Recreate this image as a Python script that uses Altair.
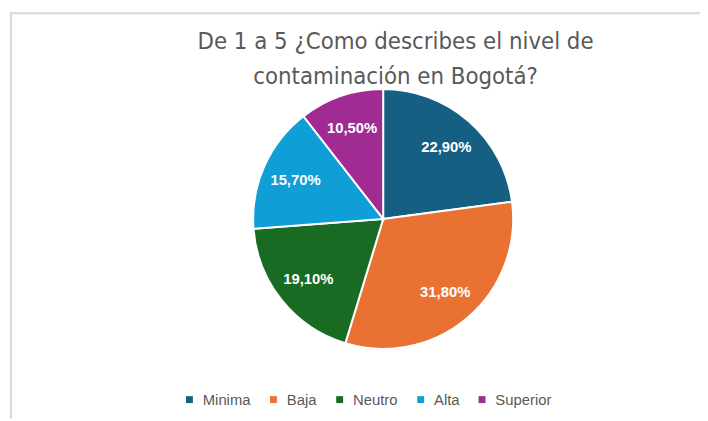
import altair as alt
import pandas as pd

categories = ["Minima", "Baja", "Neutro", "Alta", "Superior"]
values = [22.9, 31.8, 19.1, 15.7, 10.5]
labels = ["22,90%", "31,80%", "19,10%", "15,70%", "10,50%"]
slice_order = [0, 1, 2, 3, 4]
colors = ["#156082", "#E97132", "#196B24", "#0F9ED5", "#A02B93"]
title_lines = ["De 1 a 5 ¿Como describes el nivel de", "contaminación en Bogotá?"]

df = pd.DataFrame({"cat": categories, "val": values, "label": labels, "ord": slice_order})
frame_df = pd.DataFrame({"k": [0]})

CX, CY, R = 379.5, 211, 131.5

color_enc = alt.Color(
    "cat:N",
    sort=categories,
    scale=alt.Scale(domain=categories, range=colors),
    legend=alt.Legend(
        orient="none",
        legendX=176,
        legendY=386,
        direction="horizontal",
        title=None,
        symbolType="square",
        symbolSize=49,
        symbolStrokeWidth=0,
        labelFontSize=15,
        labelColor="#595959",
        labelFont="Liberation Sans",
        labelOffset=6,
        columnPadding=15,
    ),
)

pie = alt.Chart(df).mark_arc(outerRadius=R, stroke="white", strokeWidth=2).encode(
    theta=alt.Theta("val:Q", stack=True),
    order=alt.Order("ord:Q"),
    color=color_enc,
    x=alt.value(CX),
    y=alt.value(CY),
)

text = alt.Chart(df).mark_text(
    radius=97, fontSize=15, fontWeight="bold", font="Liberation Sans"
).encode(
    theta=alt.Theta("val:Q", stack=True),
    order=alt.Order("ord:Q"),
    text="label:N",
    color=alt.value("white"),
    x=alt.value(CX),
    y=alt.value(CY),
)

top_line = alt.Chart(frame_df).mark_rule(color="#d9d9d9", strokeWidth=2).encode(
    x=alt.value(2), x2=alt.value(700), y=alt.value(3)
)
left_line = alt.Chart(frame_df).mark_rule(color="#d9d9d9", strokeWidth=2).encode(
    x=alt.value(3), y=alt.value(2), y2=alt.value(413)
)

chart = alt.layer(top_line, left_line, pie, text).properties(
    width=700,
    height=413,
    autosize=alt.AutoSizeParams(type="none"),
    padding={"left": 0, "top": 0, "right": 0, "bottom": 0},
    title=alt.TitleParams(
        text=title_lines,
        fontSize=24,
        font="DejaVu Sans Condensed, Roboto, sans-serif",
        fontWeight="normal",
        color="#595959",
        lineHeight=36,
        anchor="middle",
        frame="group",
        dx=42,
        offset=-80,
    ),
).configure_view(stroke=None)

chart.save("out.html", embed_options={"renderer": "svg", "actions": False})
